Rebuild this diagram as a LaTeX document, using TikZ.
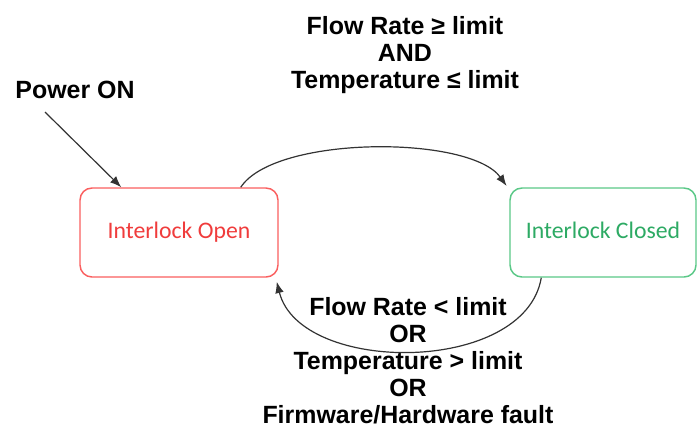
\documentclass[tikz,border=0pt]{standalone}
\usepackage{fontspec}
\setmainfont{Liberation Sans}
\newfontfamily\boxfont{Carlito}
\usetikzlibrary{arrows.meta,calc}

\definecolor{openred}{RGB}{250,95,95}
\definecolor{opentext}{RGB}{240,60,60}
\definecolor{closedgreen}{RGB}{90,200,135}
\definecolor{closedtext}{RGB}{45,170,100}

\begin{document}
\begin{tikzpicture}[
    x=0.75pt, y=-0.75pt,
    >={Latex[length=8.5pt,width=6.5pt]},
    lockstate/.style={
        draw,
        fill=white,
        rounded corners=9pt,
        line width=1.1pt,
        font=\boxfont\fontsize{17.8}{19}\selectfont,
        text height=12pt,
        text depth=3.5pt,
        inner sep=0pt
    },
    cond/.style={
        align=center,
        font=\bfseries\fontsize{18.7}{20.2}\selectfont,
        inner sep=0pt
    },
    trans/.style={
        ->,
        line width=0.9pt,
        black!80
    }
]
\useasboundingbox (0,0) rectangle (697,430);

% States
\node[lockstate, draw=openred, text=opentext, minimum width=148.5pt, minimum height=66.75pt] (open) at (179,232.5) {Interlock Open};
\node[lockstate, draw=closedgreen, text=closedtext, minimum width=139.5pt, minimum height=66.75pt] (closed) at (603,232.5) {Interlock Closed};

% Start
\node[cond] (power) at (75,90) {Power ON};
\coordinate (pstart) at (45,112);
\draw[trans] (pstart) -- ([xshift=31.5pt]open.north west);

% Conditions
\node[cond] (closecond) at (405,55) {Flow Rate ≥ limit\\AND\\Temperature ≤ limit};
\node[cond] (opencond) at (408,361) {Flow Rate < limit\\OR\\Temperature > limit\\OR\\Firmware/Hardware fault};

% Transitions
\draw[trans] ([xshift=-28.5pt]open.north east)
    .. controls (275,135) and (470,135) .. ([xshift=-2pt,yshift=1pt]closed.north west);
\draw[trans] ([xshift=24pt]closed.south west)
    .. controls (525,375) and (300,375) .. ([xshift=-1.5pt,yshift=-3pt]open.south east);

\end{tikzpicture}
\end{document}
